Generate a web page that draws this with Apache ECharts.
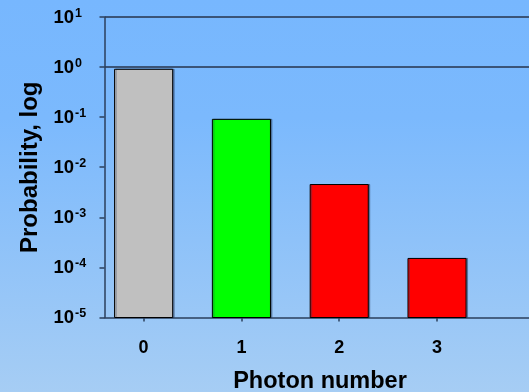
<!DOCTYPE html>
<html>
<head>
<meta charset="utf-8">
<style>
  html, body { margin: 0; padding: 0; }
  #chart { width: 529px; height: 392px; }
</style>
<script src="https://cdn.jsdelivr.net/npm/echarts@6/dist/echarts.min.js"></script>
</head>
<body>
<div id="chart"></div>
<script>
// Photon-number distribution, log scale
const photonNumbers = [0, 1, 2, 3];
const probabilities = [0.905, 0.0905, 0.00452, 0.000151];
const barColors = ['#c0c0c0', '#00ff00', '#ff0000', '#ff0000'];
const xTickValues = [0, 1, 2, 3, 4];
const yMin = 1e-5;
const yMax = 10;

const chart = echarts.init(document.getElementById('chart'), null, { renderer: 'canvas' });

const font = 'Arial, "Liberation Sans", sans-serif';
const axisDark = '#2b3f5c';

chart.setOption({
  animation: false,
  backgroundColor: {
    type: 'linear', x: 0, y: 0, x2: 0, y2: 1,
    colorStops: [
      { offset: 0, color: '#77b7fe' },
      { offset: 0.3, color: '#7bb9fd' },
      { offset: 1, color: '#a6cdf4' }
    ]
  },
  grid: {
    left: 104.5, top: 17, height: 300.5, width: 489,
    containLabel: false,
    outerBoundsMode: 'none'
  },
  xAxis: {
    type: 'value',
    min: -0.4,
    max: 4.6,
    name: 'Photon number',
    nameLocation: 'middle',
    nameGap: 52,
    nameTextStyle: {
      fontFamily: font, fontWeight: 'bold', fontSize: 23.5, color: '#000',
      padding: [0, 58, 0, 0]
    },
    axisLine: { show: true, onZero: false, lineStyle: { color: axisDark, width: 1.5 } },
    axisTick: { show: true, customValues: xTickValues, length: 4, lineStyle: { color: axisDark, width: 1.5 } },
    axisLabel: {
      customValues: xTickValues,
      margin: 22,
      fontFamily: font, fontWeight: 'bold', fontSize: 18, color: '#000'
    },
    splitLine: { show: false }
  },
  yAxis: {
    type: 'log',
    logBase: 10,
    min: yMin,
    max: yMax,
    name: 'Probability, log',
    nameLocation: 'middle',
    nameRotate: 90,
    nameGap: 59,
    nameTextStyle: { fontFamily: font, fontWeight: 'bold', fontSize: 24, color: '#000' },
    axisLine: { show: true, onZero: false, lineStyle: { color: axisDark, width: 1.5 } },
    axisTick: { show: true, length: 5, lineStyle: { color: axisDark, width: 1.5 } },
    axisLabel: {
      align: 'left',
      margin: 51,
      formatter: function (v) {
        const e = Math.round(Math.log10(v));
        return '{b|10}{s|' + e + '}';
      },
      rich: {
        b: { fontFamily: font, fontWeight: 'bold', fontSize: 18.5, color: '#000', lineHeight: 20, verticalAlign: 'bottom' },
        s: { fontFamily: font, fontWeight: 'bold', fontSize: 12.5, color: '#000', lineHeight: 14, verticalAlign: 'top', padding: [0, 0, 0, 1] }
      }
    },
    splitLine: {
      show: true,
      lineStyle: {
        width: 2,
        color: ['transparent', 'transparent', 'transparent', 'transparent', 'transparent', '#3a5478', '#3a5478']
      }
    }
  },
  series: [{
    type: 'custom',
    data: photonNumbers.map((n, i) => [n, probabilities[i]]),
    renderItem: function (params, api) {
      const x = api.value(0);
      const v = api.value(1);
      const top = api.coord([x, v]);
      const base = api.coord([x, yMin]);
      const w = api.size([1, 0])[0] * 0.594;
      return {
        type: 'rect',
        shape: { x: top[0] - w / 2, y: top[1], width: w, height: base[1] - top[1] },
        style: {
          fill: barColors[params.dataIndex],
          stroke: '#000',
          lineWidth: 1,
          shadowColor: 'rgba(40,60,90,0.45)',
          shadowOffsetX: 1.5,
          shadowOffsetY: 0
        }
      };
    }
  }]
});
</script>
</body>
</html>
